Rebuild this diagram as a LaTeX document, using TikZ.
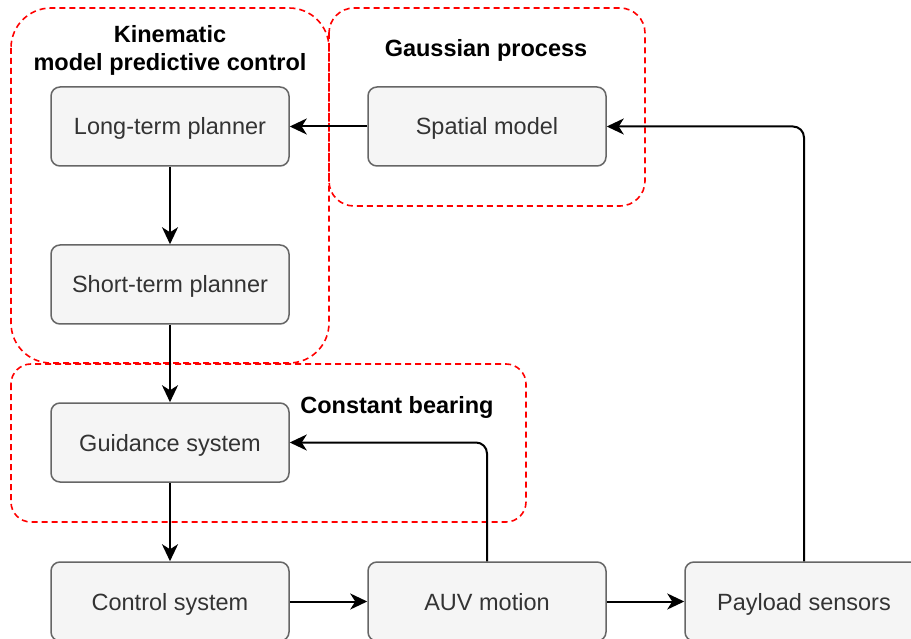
\documentclass[tikz,border=0pt]{standalone}
\usepackage{fontspec}
\setmainfont{Liberation Sans}
\usetikzlibrary{arrows.meta}
\definecolor{boxfill}{HTML}{F5F5F5}
\definecolor{boxline}{HTML}{666666}
\definecolor{boxtext}{HTML}{333333}
\begin{document}
\begin{tikzpicture}[x=1pt,y=-1pt,
  blk/.style={draw=boxline,fill=boxfill,rounded corners=9pt,line width=1.5pt,minimum width=238pt,minimum height=79pt,text=boxtext,font=\fontsize{23.5}{28}\selectfont,inner sep=0pt,text height=17pt,text depth=0pt},
  grp/.style={draw=red,line width=1.6pt,dash pattern=on 6pt off 4pt},
  ttl/.style={font=\fontsize{23.5}{28}\selectfont\bfseries,align=center,text=black},
  arr/.style={-{Stealth[length=17pt,width=16pt,inset=5pt]},line width=2pt,rounded corners=11pt}]
\useasboundingbox (0,0) rectangle (911,639);
\draw[grp,rounded corners=40pt] (11,8) rectangle (329,363);
\draw[grp,rounded corners=25pt] (329,8) rectangle (645,206);
\draw[grp,rounded corners=20pt] (11,364) rectangle (526,522);
\node[ttl] (tk) at (170,50) {Kinematic\\model predictive control};
\node[ttl] (tg) at (486,50) {Gaussian process};
\node[ttl] (tc) at (397,407) {Constant bearing};
\node[blk] (lt) at (170,126.5) {Long-term planner};
\node[blk] (st) at (170,284.5) {Short-term planner};
\node[blk] (gs) at (170,442.5) {Guidance system};
\node[blk] (cs) at (170,601.5) {Control system};
\node[blk] (sm) at (487,126.5) {Spatial model};
\node[blk] (am) at (487,601.5) {AUV motion};
\node[blk] (ps) at (804,601.5) {Payload sensors};
\draw[arr] (sm) -- (lt);
\draw[arr] (lt) -- (st);
\draw[arr] (st) -- (gs);
\draw[arr] (gs) -- (cs);
\draw[arr] (cs) -- (am);
\draw[arr] (am) -- (ps);
\draw[arr] (am.north) |- (gs.east);
\draw[arr] (ps.north) |- (sm.east);
\end{tikzpicture}
\end{document}
